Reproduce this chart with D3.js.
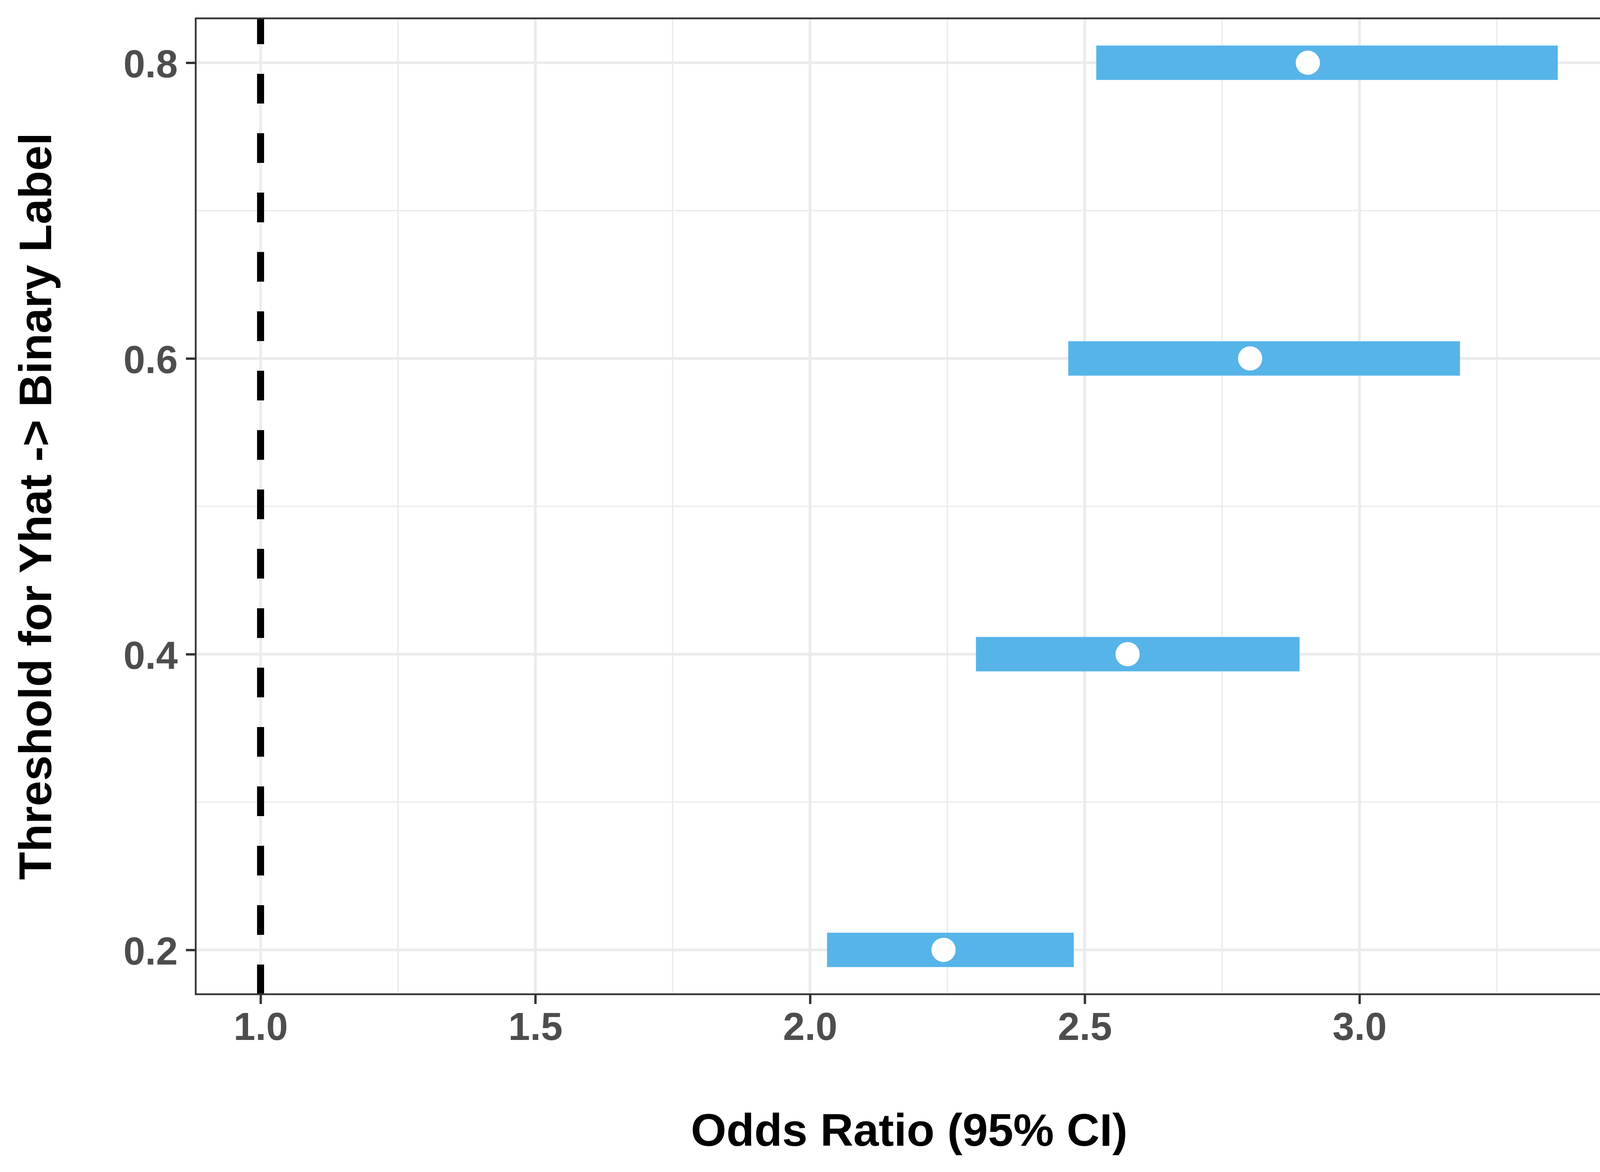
<!DOCTYPE html>
<html>
<head>
    <title>Odds Ratio by Threshold</title>
    <script src="https://d3js.org/d3.v7.min.js"></script>
    <style>
        html, body {
            margin: 0;
            padding: 0;
            background: #fff;
            overflow: hidden;
        }
        svg {
            display: block;
        }
        text {
            font-family: "Liberation Sans", Arial, sans-serif;
            font-weight: bold;
        }
    </style>
</head>
<body>
    <div id="chart"></div>
    <script>
        // Data
        const thresholds = [0.2, 0.4, 0.6, 0.8];
        const oddsRatio = [2.243, 2.578, 2.801, 2.906];
        const ciLow = [2.031, 2.302, 2.470, 2.521];
        const ciHigh = [2.480, 2.891, 3.183, 3.361];
        const refLine = 1.0;

        const xTicks = [1.0, 1.5, 2.0, 2.5, 3.0];
        const xMinor = [1.25, 1.75, 2.25, 2.75, 3.25];
        const yTicks = [0.2, 0.4, 0.6, 0.8];
        const yMinor = [0.3, 0.5, 0.7];

        const xTitle = "Odds Ratio (95% CI)";
        const yTitle = "Threshold for Yhat -> Binary Label";

        const rows = thresholds.map((t, i) => ({
            t: t, or: oddsRatio[i], lo: ciLow[i], hi: ciHigh[i]
        }));

        // Layout
        const width = 4200, height = 3000;
        const panel = {left: 501, right: 4154, top: 47, bottom: 2545};

        const svg = d3.select('#chart')
            .append('svg')
            .attr('width', width)
            .attr('height', height);

        // ggplot-like 5% expansion
        const xlo = Math.min(refLine, d3.min(ciLow));
        const xhi = d3.max(ciHigh);
        const xpad = (xhi - xlo) * 0.05;
        const x = d3.scaleLinear()
            .domain([xlo - xpad, xhi + xpad])
            .range([panel.left, panel.right]);

        const ylo = d3.min(thresholds), yhi = d3.max(thresholds);
        const ypad = (yhi - ylo) * 0.05;
        const y = d3.scaleLinear()
            .domain([ylo - ypad, yhi + ypad])
            .range([panel.bottom, panel.top]);

        const g = svg.append('g');

        // Grid lines
        g.append('g').selectAll('line')
            .data(xMinor)
            .join('line')
            .attr('x1', d => x(d)).attr('x2', d => x(d))
            .attr('y1', panel.top).attr('y2', panel.bottom)
            .attr('stroke', '#EBEBEB').attr('stroke-width', 3.5);

        g.append('g').selectAll('line')
            .data(yMinor)
            .join('line')
            .attr('x1', panel.left).attr('x2', panel.right)
            .attr('y1', d => y(d)).attr('y2', d => y(d))
            .attr('stroke', '#EBEBEB').attr('stroke-width', 3.5);

        g.append('g').selectAll('line')
            .data(xTicks)
            .join('line')
            .attr('x1', d => x(d)).attr('x2', d => x(d))
            .attr('y1', panel.top).attr('y2', panel.bottom)
            .attr('stroke', '#EBEBEB').attr('stroke-width', 7);

        g.append('g').selectAll('line')
            .data(yTicks)
            .join('line')
            .attr('x1', panel.left).attr('x2', panel.right)
            .attr('y1', d => y(d)).attr('y2', d => y(d))
            .attr('stroke', '#EBEBEB').attr('stroke-width', 7);

        // Reference line at OR = 1 (dash pattern starts from the bottom)
        g.append('line')
            .attr('x1', x(refLine)).attr('x2', x(refLine))
            .attr('y1', panel.bottom).attr('y2', panel.top)
            .attr('stroke', '#000')
            .attr('stroke-width', 18)
            .attr('stroke-dasharray', '76,76');

        // CI bars
        g.append('g').selectAll('rect')
            .data(rows)
            .join('rect')
            .attr('x', d => x(d.lo))
            .attr('width', d => x(d.hi) - x(d.lo))
            .attr('y', d => y(d.t) - 44)
            .attr('height', 88)
            .attr('fill', '#56B4E9');

        // Point estimates
        g.append('g').selectAll('circle')
            .data(rows)
            .join('circle')
            .attr('cx', d => x(d.or))
            .attr('cy', d => y(d.t))
            .attr('r', 31)
            .attr('fill', '#fff');

        // Panel border
        g.append('rect')
            .attr('x', panel.left).attr('y', panel.top)
            .attr('width', panel.right - panel.left)
            .attr('height', panel.bottom - panel.top)
            .attr('fill', 'none')
            .attr('stroke', '#333333')
            .attr('stroke-width', 4.5);

        // X axis
        const xAxis = svg.append('g')
            .attr('transform', `translate(0,${panel.bottom})`)
            .call(d3.axisBottom(x).tickValues(xTicks).tickFormat(d3.format('.1f'))
                .tickSize(25).tickPadding(0));
        xAxis.select('.domain').remove();
        xAxis.selectAll('.tick line').attr('stroke', '#333333').attr('stroke-width', 6);
        xAxis.selectAll('.tick text')
            .attr('y', 117)
            .attr('dy', 0)
            .attr('fill', '#4D4D4D')
            .style('font-size', '100px');

        // Y axis
        const yAxis = svg.append('g')
            .attr('transform', `translate(${panel.left},0)`)
            .call(d3.axisLeft(y).tickValues(yTicks).tickFormat(d3.format('.1f'))
                .tickSize(25).tickPadding(0));
        yAxis.select('.domain').remove();
        yAxis.selectAll('.tick line').attr('stroke', '#333333').attr('stroke-width', 6);
        yAxis.selectAll('.tick text')
            .attr('x', -46)
            .attr('dy', 37)
            .attr('text-anchor', 'end')
            .attr('fill', '#4D4D4D')
            .style('font-size', '100px');

        // Axis titles
        svg.append('text')
            .attr('x', (panel.left + panel.right) / 2)
            .attr('y', 2933)
            .attr('text-anchor', 'middle')
            .attr('fill', '#000')
            .style('font-size', '117px')
            .text(xTitle);

        svg.append('text')
            .attr('transform', `translate(131,${(panel.top + panel.bottom) / 2}) rotate(-90)`)
            .attr('text-anchor', 'middle')
            .attr('fill', '#000')
            .style('font-size', '117px')
            .text(yTitle);
    </script>
</body>
</html>
